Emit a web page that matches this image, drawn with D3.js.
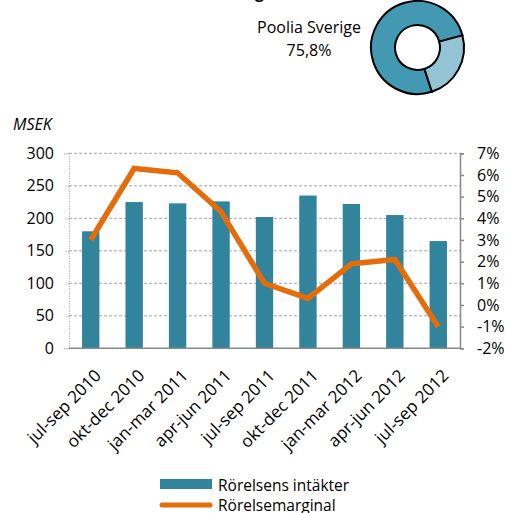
<!DOCTYPE html>
<html><head><meta charset="utf-8">
<script src="https://cdn.jsdelivr.net/npm/d3@7"></script>
<style>
body{margin:0;background:#fff;}
svg{display:block;font-family:"Open Sans",sans-serif;}
</style></head>
<body><svg id="c" width="506" height="513"></svg>
<script>
const categories = ["jul-sep 2010","okt-dec 2010","jan-mar 2011","apr-jun 2011","jul-sep 2011","okt-dec 2011","jan-mar 2012","apr-jun 2012","jul-sep 2012"];
const revenue = [180, 225, 223, 226, 202, 235, 222, 205, 165];
const margin = [3.0, 6.3, 6.1, 4.3, 1.0, 0.3, 1.9, 2.1, -1.0];
const leftTicks = [0, 50, 100, 150, 200, 250, 300];
const rightTicks = [-2, -1, 0, 1, 2, 3, 4, 5, 6, 7];
const pieLabels = ["Poolia Sverige", "Övrigt"];
const pieValues = [75.8, 24.2];

const svg = d3.select("#c");
const L = 69, R = 460, T = 153.3, B = 348.3;
const teal = "#31849b", orange = "#e46c0a";

const x = d3.scaleBand().domain(categories).range([L, R]).paddingInner(0.6).paddingOuter(0.3);
const y = d3.scaleLinear().domain([0, 300]).range([B, T]);
const y2 = d3.scaleLinear().domain([-2, 7]).range([B, T]);

// partially visible title
svg.append("text").attr("x", 264).attr("y", -2).attr("text-anchor", "end")
  .attr("font-weight", "bold").attr("font-size", 16).attr("fill", "#000").text("Fördelning");

// gridlines
svg.append("g").selectAll("line").data(leftTicks.filter(d => d > 0)).join("line")
  .attr("x1", L).attr("x2", R).attr("y1", d => y(d)).attr("y2", d => y(d))
  .attr("stroke", "#a6a6a6").attr("stroke-width", 1).attr("stroke-dasharray", "3,2");

// left axis
const gl = svg.append("g").attr("transform", `translate(${L},0)`)
  .call(d3.axisLeft(y).tickValues(leftTicks).tickSize(5).tickPadding(10));
gl.select(".domain").attr("stroke", "#a0a0a0").attr("stroke-dasharray", "1,1.5");
gl.selectAll(".tick line").attr("stroke", "#a0a0a0").attr("stroke-dasharray", "1,1.5");
gl.selectAll("text").attr("font-size", 16).attr("fill", "#000").attr("font-family", "Open Sans");

// right axis
const gr = svg.append("g").attr("transform", `translate(${R},0)`)
  .call(d3.axisRight(y2).tickValues(rightTicks).tickSize(4).tickPadding(13).tickFormat(d => d + "%"));
gr.select(".domain").attr("stroke", "#888").attr("stroke-width", 1.5);
gr.selectAll(".tick line").attr("stroke", "#888").attr("stroke-width", 1.5);
gr.selectAll("text").attr("font-size", 16).attr("fill", "#000").attr("font-family", "Open Sans");

// bars
svg.append("g").selectAll("rect").data(categories).join("rect")
  .attr("x", d => x(d)).attr("width", x.bandwidth())
  .attr("y", (d, i) => y(revenue[i])).attr("height", (d, i) => B - y(revenue[i]))
  .attr("fill", teal);

// bottom axis
svg.append("line").attr("x1", L).attr("x2", R).attr("y1", B).attr("y2", B)
  .attr("stroke", "#888").attr("stroke-width", 1.5);

// x labels
svg.append("g").selectAll("text").data(categories).join("text")
  .attr("transform", d => `translate(${x(d) + x.bandwidth() / 2 + 3},${B + 20}) rotate(-45)`)
  .attr("text-anchor", "end").attr("dy", "0.7em").attr("font-size", 17).attr("fill", "#000")
  .text(d => d);

// line
const line = d3.line().x((d, i) => x(categories[i]) + x.bandwidth() / 2).y(d => y2(d));
svg.append("path").datum(margin).attr("d", line).attr("fill", "none")
  .attr("stroke", orange).attr("stroke-width", 5.5).attr("stroke-linejoin", "miter").attr("stroke-linecap", "butt");

// MSEK label
svg.append("text").attr("x", 13).attr("y", 130).attr("font-style", "italic").attr("font-size", 16).text("MSEK");

// donut
const pie = d3.pie().sort(null).startAngle(162 * Math.PI / 180).endAngle((162 + 360) * Math.PI / 180);
const arc = d3.arc().innerRadius(22.5).outerRadius(46.5);
svg.append("g").attr("transform", "translate(417.5,47.5)").selectAll("path").data(pie(pieValues)).join("path")
  .attr("d", arc).attr("fill", (d, i) => i === 0 ? "#4399b1" : "#93c4d5")
  .attr("stroke", "#000").attr("stroke-width", 2);

svg.append("text").attr("x", 309).attr("y", 33).attr("text-anchor", "middle").attr("font-size", 16).text(pieLabels[0]);
svg.append("text").attr("x", 309).attr("y", 56).attr("text-anchor", "middle").attr("font-size", 16)
  .text(String(pieValues[0]).replace(".", ",") + "%");

// legend
svg.append("rect").attr("x", 160).attr("y", 479).attr("width", 52).attr("height", 10).attr("fill", teal);
svg.append("text").attr("x", 218).attr("y", 491).attr("font-size", 15.5).text("Rörelsens intäkter");
svg.append("line").attr("x1", 162).attr("x2", 210).attr("y1", 505).attr("y2", 505)
  .attr("stroke", orange).attr("stroke-width", 5).attr("stroke-linecap", "round");
svg.append("text").attr("x", 218).attr("y", 511).attr("font-size", 15.5).text("Rörelsemarginal");
</script></body></html>
